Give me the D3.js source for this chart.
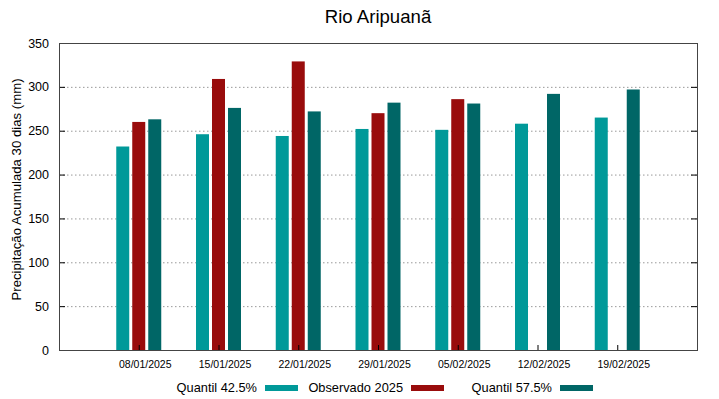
<!DOCTYPE html>
<html>
<head>
    <meta charset="utf-8">
    <title>Rio Aripuanã</title>
    <script type="text/javascript" src="https://cdn.jsdelivr.net/npm/d3@7/dist/d3.min.js"></script>
    <style type="text/css">
        body { margin: 0; background: #fff; }
        svg { font-family: "Liberation Sans", Arial, sans-serif; }
        .grid line { stroke: #999; stroke-width: 1px; stroke-dasharray: 1.5 2.5; }
    </style>
</head>
<body>
    <svg id="chart" width="719" height="399"></svg>
</body>

<script type="text/javascript">

    let datas = ["08/01/2025", "15/01/2025", "22/01/2025", "29/01/2025", "05/02/2025", "12/02/2025", "19/02/2025"];
    let series = ["Quantil 42.5%", "Observado 2025", "Quantil 57.5%"];
    let q425 = [232, 246, 244, 252, 251, 258, 265];
    let obs = [260, 309, 329, 270, 286, null, null];
    let q575 = [263, 276, 272, 282, 281, 292, 297];
    let yTicks = [0, 50, 100, 150, 200, 250, 300, 350];
    let cores = ["#009999", "#990c0c", "#006666"];

    let mLeft = 59, mRight = 697, mTop = 43, mBottom = 350;
    let svg = d3.select("#chart");

    let x = d3.scalePoint().domain(datas).range([mLeft, mRight]).padding(1);
    let xs = d3.scaleBand().domain(series).range([-22.5, 22.5]).paddingInner(0.1875);
    let y = d3.scaleLinear().domain([0, 350]).range([mBottom, mTop]);
    let cor = d3.scaleOrdinal().domain(series).range(cores);

    // grade pontilhada
    svg.append("g").attr("class", "grid")
        .selectAll("line").data(yTicks.slice(1, -1)).enter().append("line")
        .attr("x1", mLeft).attr("x2", mRight)
        .attr("y1", d => y(d) + 0.5).attr("y2", d => y(d) + 0.5);

    let linhas = datas.map((d, i) => ({data: d, valores: [q425[i], obs[i], q575[i]]}));

    svg.append("g").selectAll("g").data(linhas).enter().append("g")
        .attr("transform", d => "translate(" + x(d.data) + ",0)")
        .selectAll("rect")
        .data(d => series.map((s, j) => ({s: s, v: d.valores[j]})).filter(e => e.v != null))
        .enter().append("rect")
        .attr("x", d => xs(d.s))
        .attr("width", xs.bandwidth())
        .attr("y", d => y(d.v))
        .attr("height", d => y(0) - y(d.v))
        .attr("fill", d => cor(d.s));

    // eixos
    let eixoY = d3.axisLeft(y).tickValues(yTicks).tickSize(-6).tickPadding(10);
    svg.append("g").attr("transform", "translate(" + mLeft + ",0)").call(eixoY)
        .call(g => g.select(".domain").remove())
        .call(g => g.selectAll("text").attr("font-size", 12.5).attr("font-family", "Liberation Sans, Arial").attr("fill", "#000"));
    svg.append("g").attr("transform", "translate(" + mRight + ",0)")
        .call(d3.axisRight(y).tickValues(yTicks).tickSize(-6).tickFormat(""))
        .call(g => g.select(".domain").remove());

    let eixoX = d3.axisBottom(x).tickSize(-5).tickPadding(11);
    svg.append("g").attr("transform", "translate(0," + mBottom + ")").call(eixoX)
        .call(g => g.select(".domain").remove())
        .call(g => g.selectAll("text").attr("font-size", 10.5).attr("font-family", "Liberation Sans, Arial")
            .attr("fill", "#000").attr("dx", 6));

    svg.append("rect").attr("x", mLeft + 0.5).attr("y", mTop + 0.5)
        .attr("width", mRight - mLeft).attr("height", mBottom - mTop)
        .attr("fill", "none").attr("stroke", "#444").attr("stroke-width", 1);

    svg.append("text").attr("x", (mLeft + mRight) / 2).attr("y", 23).attr("text-anchor", "middle")
        .attr("font-size", 18.6).text("Rio Aripuanã");

    svg.append("text").attr("transform", "translate(20.5,189.5) rotate(-90)")
        .attr("text-anchor", "middle").attr("font-size", 13.2).text("Precipitação Acumulada 30 dias (mm)");

    // legenda
    let legX = [257, 403, 552];
    let leg = svg.append("g").selectAll("g").data(series).enter().append("g")
        .attr("transform", (d, i) => "translate(" + legX[i] + ",388)");
    leg.append("text").attr("text-anchor", "end").attr("y", 4).attr("font-size", 12.8).text(d => d);
    leg.append("rect").attr("x", 8).attr("y", -3).attr("width", 33).attr("height", 6).attr("fill", d => cor(d));

</script>

</html>
